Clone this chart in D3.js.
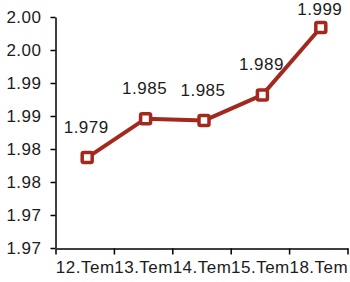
<!DOCTYPE html>
<html>
<head>
<meta charset="utf-8">
<script src="https://cdn.jsdelivr.net/npm/d3@7"></script>
<style>
  body { margin: 0; background: #fff; }
  text { font-family: "Liberation Sans", Arial, sans-serif; letter-spacing: 0.5px; }
</style>
</head>
<body>
<div id="chart"></div>
<script>
// du lieu
const categories = ["12.Tem", "13.Tem", "14.Tem", "15.Tem", "18.Tem"];
const values = [1.9787, 1.9846, 1.9843, 1.9882, 1.9984];
const valueLabels = ["1.979", "1.985", "1.985", "1.989", "1.999"];
const yTicks = [1.965, 1.970, 1.975, 1.980, 1.985, 1.990, 1.995, 2.000];
const yTickLabels = ["1.97", "1.97", "1.98", "1.98", "1.99", "1.99", "2.00", "2.00"];

const width = 350, height = 282;
const lineColor = "#a3291f";
const textColor = "#1c1c1c";

const svg = d3.select("#chart").append("svg")
    .attr("width", width)
    .attr("height", height);

const x = d3.scaleBand().domain(categories).range([56, 348]).padding(0);
const y = d3.scaleLinear().domain([1.965, 2.000]).range([248, 17]);

// truc Y
const yAxis = svg.append("g")
    .attr("transform", "translate(55.5,0)")
    .call(d3.axisLeft(y)
        .tickValues(yTicks)
        .tickFormat((d, i) => yTickLabels[i])
        .tickSize(5)
        .tickSizeOuter(0)
        .tickPadding(9));
yAxis.select(".domain").attr("stroke", "#000").attr("stroke-width", 1.5);
yAxis.selectAll(".tick line").attr("stroke", "#000").attr("stroke-width", 1.5);
yAxis.selectAll(".tick text")
    .style("font-size", "17px")
    .attr("fill", textColor);

// truc X
const xAxis = svg.append("g")
    .attr("transform", "translate(0,248.5)")
    .call(d3.axisBottom(x).tickSize(0).tickPadding(12));
xAxis.select(".domain").attr("stroke", "#000").attr("stroke-width", 1.5);
xAxis.selectAll(".tick text")
    .style("font-size", "17px")
    .attr("fill", textColor);

// vach chia giua cac nhom
const bounds = categories.map(c => x(c)).concat([x.range()[1]]);
xAxis.selectAll(".bound")
    .data(bounds)
    .enter().append("line")
    .attr("class", "bound")
    .attr("x1", d => d).attr("x2", d => d)
    .attr("y1", 0).attr("y2", 6)
    .attr("stroke", "#000")
    .attr("stroke-width", 1.5);

const cx = d => x(d) + x.bandwidth() / 2 + 2;

// duong
const line = d3.line()
    .x((d, i) => cx(categories[i]))
    .y(d => y(d));

svg.append("path")
    .datum(values)
    .attr("d", line)
    .attr("fill", "none")
    .attr("stroke", lineColor)
    .attr("stroke-width", 4)
    .attr("stroke-linejoin", "round");

// diem
svg.selectAll(".marker")
    .data(values)
    .enter().append("rect")
    .attr("class", "marker")
    .attr("x", (d, i) => cx(categories[i]) - 5)
    .attr("y", d => y(d) - 5)
    .attr("width", 10)
    .attr("height", 10)
    .attr("rx", 1.5)
    .attr("fill", "#fff")
    .attr("stroke", lineColor)
    .attr("stroke-width", 3.5);

// nhan gia tri (nhan tren cung bi day xuong cho vua khung)
svg.selectAll(".vlabel")
    .data(values)
    .enter().append("text")
    .attr("class", "vlabel")
    .attr("x", (d, i) => cx(categories[i]) - 1)
    .attr("y", d => Math.max(y(d) - 25, 15))
    .attr("text-anchor", "middle")
    .style("font-size", "17px")
    .attr("fill", textColor)
    .text((d, i) => valueLabels[i]);
</script>
</body>
</html>
